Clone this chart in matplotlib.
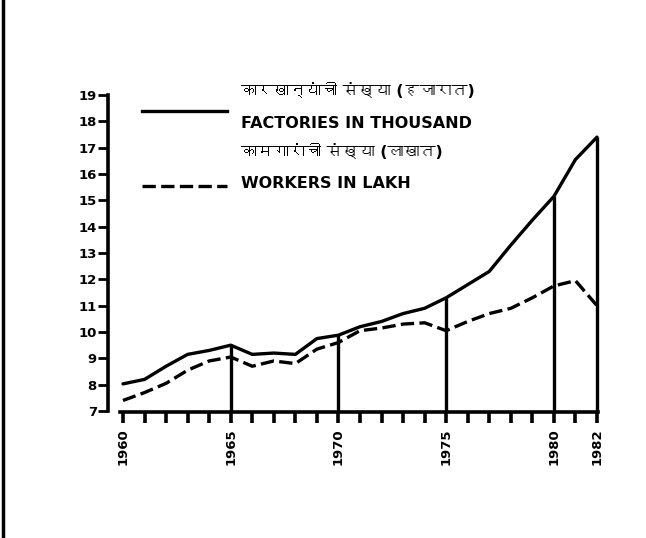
import matplotlib
matplotlib.use('Agg')
import matplotlib.pyplot as plt
from matplotlib import font_manager
from matplotlib.ft2font import FT2Font
from matplotlib.lines import Line2D
from matplotlib.legend_handler import HandlerLine2D

years = list(range(1960, 1983))
factories = [8.03, 8.2, 8.7, 9.15, 9.3, 9.5, 9.15, 9.2, 9.15, 9.75, 9.88, 10.2,
             10.4, 10.7, 10.9, 11.3, 11.8, 12.3, 13.3, 14.25, 15.15, 16.55, 17.4]
workers = [7.4, 7.7, 8.05, 8.55, 8.9, 9.05, 8.7, 8.9, 8.8, 9.35, 9.6, 10.05,
           10.15, 10.3, 10.35, 10.05, 10.4, 10.7, 10.9, 11.3, 11.75, 11.95, 11.0]
guide_years = [1965, 1970, 1975, 1980, 1982]
label_years = [1960, 1965, 1970, 1975, 1980, 1982]
yticks = list(range(7, 20))

factories_label = 'कारखान्यांची संख्या (हजारात)\nFACTORIES IN THOUSAND'
workers_label = 'कामगारांची संख्या (लाखात)\nWORKERS IN LAKH'

# find some installed font that has Devanagari glyphs
deva = None
for f in font_manager.fontManager.ttflist:
    try:
        if 0x0915 in FT2Font(f.fname).get_charmap():
            deva = f.name
            break
    except Exception:
        pass
# DejaVu first so the English lines stay bold sans, Devanagari falls through
families = ['DejaVu Sans', deva] if deva else ['DejaVu Sans']


class ShiftedLine(HandlerLine2D):
    # legend key moved up/down inside its entry (points)
    def __init__(self, dy, **kw):
        super().__init__(**kw)
        self.dy = dy

    def create_artists(self, legend, orig, xd, yd, w, h, fs, trans):
        arts = super().create_artists(legend, orig, xd, yd, w, h, fs, trans)
        for a in arts:
            a.set_ydata([y + self.dy for y in a.get_ydata()])
        return arts


W, H = 646, 538
fig = plt.figure(figsize=(W / 100, H / 100), dpi=100)
x0, x1 = 1959.3, 1982.3
y0, y1 = 6.96, 19.2
px_year = (597 - 123) / 22
px_unit = (411 - 95) / 12
left = 123 - (1960 - x0) * px_year
right = 597 + (x1 - 1982) * px_year
top = 95 - (y1 - 19) * px_unit
bottom = 411 + (7 - y0) * px_unit
ax = fig.add_axes([left / W, 1 - bottom / H, (right - left) / W, (bottom - top) / H])

ax.plot(years, factories, color='black', lw=2.4, solid_capstyle='round')
ax.plot(years, workers, color='black', lw=2.4, dashes=(4, 1.6))
ax.vlines(guide_years, 7, [factories[years.index(y)] for y in guide_years],
          color='black', lw=2.4)

ax.set_xlim(x0, x1)
ax.set_ylim(y0, y1)
for s in ['top', 'right']:
    ax.spines[s].set_visible(False)
ax.spines['left'].set_linewidth(2.6)
ax.spines['bottom'].set_linewidth(2.6)
ax.spines['left'].set_bounds(7, 19)
ax.spines['bottom'].set_bounds(1959.86, 1982.05)

ax.set_yticks(yticks)
ax.set_yticklabels([str(v) for v in yticks], fontsize=9.5, fontweight='bold')
ax.tick_params(axis='y', direction='out', length=7, width=2, pad=1)
ax.set_xticks(years)
ax.set_xticklabels([str(y) if y in label_years else '' for y in years],
                   rotation=90, fontsize=9.5, fontweight='bold')
ax.tick_params(axis='x', direction='out', length=8, width=2.6, pad=4)

h_fact = Line2D([], [], color='black', lw=2.4)
h_work = Line2D([], [], color='black', lw=2.4, dashes=(4, 1.6))
leg = ax.legend([h_fact, h_work], [factories_label, workers_label],
                loc='upper left', bbox_to_anchor=(142 / W, 1 - 83 / H),
                bbox_transform=fig.transFigure, frameon=False,
                prop={'family': families, 'weight': 'bold', 'size': 11.5},
                handlelength=5.3, handletextpad=0.9, labelspacing=0.8,
                borderpad=0, borderaxespad=0,
                handler_map={h_fact: ShiftedLine(-3), h_work: ShiftedLine(-13)})
for t in leg.get_texts():
    t.set_linespacing(2.4)

# left edge of the scanned page
fig.add_artist(Line2D([0.004, 0.004], [0, 1], transform=fig.transFigure,
                      color='black', lw=2.5))

fig.savefig('out.png', dpi=100)
